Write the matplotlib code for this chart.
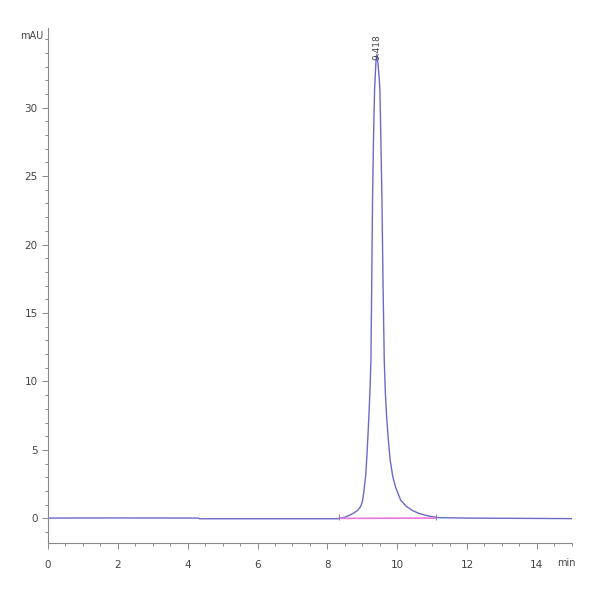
import numpy as np
import matplotlib.pyplot as plt
from matplotlib.ticker import MultipleLocator

# chromatogram trace (min, mAU)
time = [0.0, 2.0, 4.3, 4.35, 8.3, 8.5, 8.63, 8.75, 8.87, 8.95, 8.98, 9.01,
        9.035, 9.06, 9.1, 9.124, 9.16, 9.19, 9.22, 9.248, 9.27, 9.294, 9.32,
        9.352, 9.39, 9.418, 9.45, 9.48, 9.505, 9.53, 9.563, 9.595, 9.629,
        9.66, 9.7, 9.75, 9.8, 9.87, 9.95, 10.1, 10.25, 10.43, 10.6, 10.82,
        11.0, 11.2, 12.0, 15.0]
signal = [0.02, 0.03, 0.02, -0.03, -0.03, 0.08, 0.22, 0.38, 0.585, 0.85, 1.05, 1.32,
          1.75, 2.3, 3.2, 4.24, 5.9, 7.5, 9.3, 11.56, 17.0, 23.3, 27.5,
          31.3, 33.3, 33.9, 33.2, 32.3, 31.3, 28.0, 23.3, 17.0, 11.56,
          9.2, 7.3, 5.6, 4.24, 3.1, 2.3, 1.32, 0.9, 0.585, 0.38, 0.22,
          0.12, 0.05, 0.02, -0.02]

peak_rt = 9.418
base_start, base_end = 8.34, 11.11

fig = plt.figure(figsize=(6, 6), dpi=100)
ax = fig.add_axes([0.08, 0.095, 0.873, 0.858])

ax.plot(time, signal, color='#6a6ac8', lw=1.0)
ax.plot([base_start, base_end], [0, 0.02], color='#e87ad8', lw=1.2)
ax.plot([base_start, base_end], [0.1, 0.1], '|', color='#777777', ms=4, mew=0.6)

ax.text(peak_rt, 33.5, '9.418', rotation=90, ha='center', va='bottom',
        fontsize=6.5, color='#444444', clip_on=False)

ax.set_xlim(0, 15)
ax.set_ylim(-1.8, 35.8)
ax.xaxis.set_major_locator(MultipleLocator(2))
ax.xaxis.set_minor_locator(MultipleLocator(0.5))
ax.yaxis.set_major_locator(MultipleLocator(5))
ax.yaxis.set_minor_locator(MultipleLocator(1))

for s in ['top', 'right']:
    ax.spines[s].set_visible(False)
for s in ['left', 'bottom']:
    ax.spines[s].set_color('#888888')
    ax.spines[s].set_linewidth(0.8)

ax.tick_params(which='both', colors='#888888', labelcolor='#444444', labelsize=7.5, width=0.7)
ax.tick_params(which='major', length=4)
ax.tick_params(which='minor', length=2.5)
ax.tick_params(axis='x', pad=8)
ax.set_yticks([0, 5, 10, 15, 20, 25, 30])

ax.text(-0.12, 35.2, 'mAU', ha='right', va='center', fontsize=7, color='#444444')
ax.text(14.85, -3.25, 'min', ha='center', va='center', fontsize=7, color='#444444',
        clip_on=False)

plt.savefig('out.png', dpi=100)
